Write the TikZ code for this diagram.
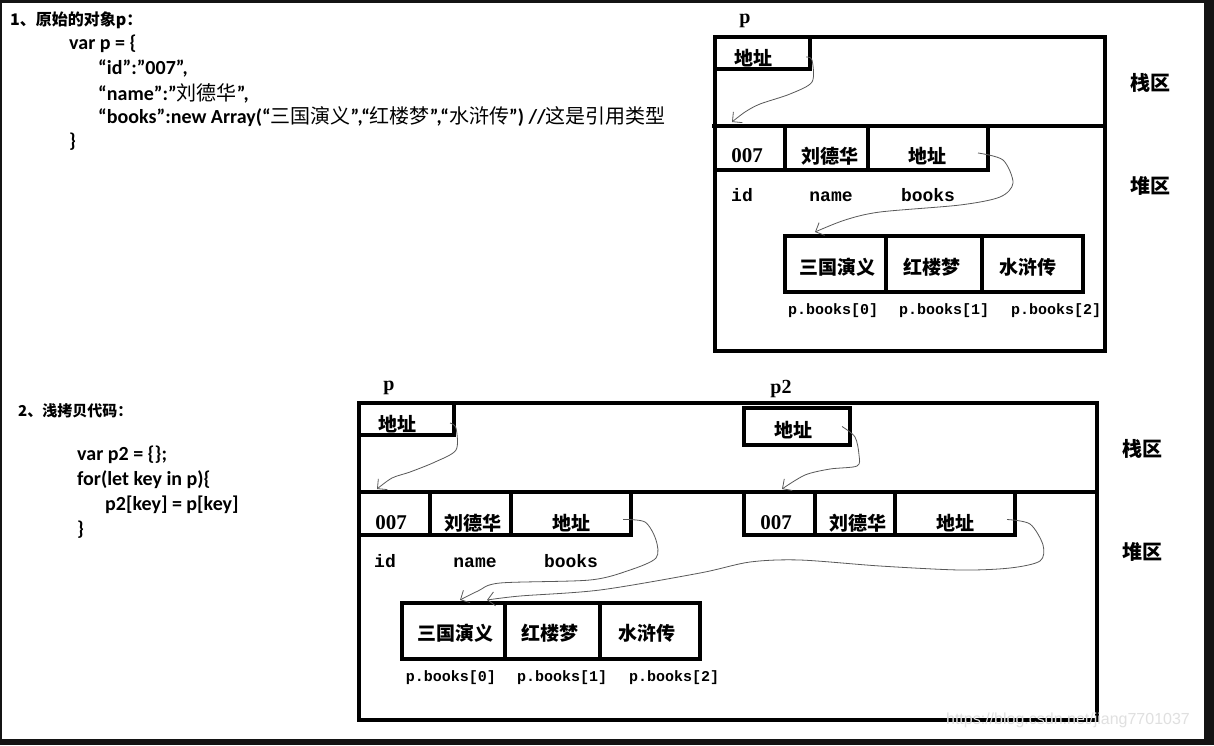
\documentclass[tikz,border=0pt]{standalone}
\usepackage{fontspec}
\setmainfont{Liberation Serif}
\newfontfamily\cjk{Noto Sans CJK SC}
\newfontfamily\codefont{Carlito}
\newfontfamily\monof{Liberation Mono}
\newfontfamily\wmfont{Liberation Sans}
\usetikzlibrary{arrows.meta,calc}
\newcommand\zh[1]{{\cjk\mdseries #1}}
\tikzset{
  box/.style={draw, line width=4.5pt, inner sep=0pt, outer sep=0pt},
  zhcell/.style={font=\cjk\bfseries\fontsize{19}{22}\selectfont, inner sep=0pt},
  numcell/.style={font=\bfseries\fontsize{21}{24}\selectfont, inner sep=0pt},
  fieldlbl/.style={font=\monof\bfseries\fontsize{18}{20}\selectfont, inner sep=0pt, anchor=base},
  idxlbl/.style={font=\monof\bfseries\fontsize{15}{18}\selectfont, inner sep=0pt},
  varlbl/.style={font=\bfseries\fontsize{20}{22}\selectfont, inner sep=0pt},
  zone/.style={font=\cjk\bfseries\fontsize{20}{22}\selectfont, inner sep=0pt},
  codeline/.style={font=\codefont\bfseries\fontsize{20}{24}\selectfont, anchor=west, inner sep=0pt},
  heading/.style={font=\cjk\bfseries\fontsize{16}{20}\selectfont, anchor=west, inner sep=0pt},
  conn/.style={draw=black!65, line width=0.8pt, -{Straight Barb[length=7pt,width=14pt,line width=0.8pt]}},
}
\begin{document}
\begin{tikzpicture}[x=1pt,y=-1pt]
\useasboundingbox (0,0) rectangle (1214,745);
\fill[black!92] (0,0) rectangle (1214,745);
\fill[white] (2,3) rectangle (1204,739);

% ---------- section 1 text ----------
\node[heading] (h1) at (10,20) {1、原始的对象p：};
\node[codeline] (l1) at (69,44) {var p = \{};
\node[codeline] (l2) at (98,68) {“id”:”007”,};
\node[codeline] (l3) at (98,93) {“name”:”\zh{刘德华}”,};
\node[codeline] (l4) at (98,117) {“books”:new Array(“\zh{三国演义}”,“\zh{红楼梦}”,“\zh{水浒传}”) //\zh{这是引用类型}};
\node[codeline] (l5) at (69,142) {\}};

% ---------- section 1 diagram ----------
\node[box, minimum width=390, minimum height=314] (mem1) at (910,194) {};
\draw[line width=4.5pt] (712,126) -- (mem1.east |- 0,126);
\node[varlbl] (p1) at (745,21) {p};
\node[zone] (stack1) at (1150,83) {栈区};
\node[zone] (heap1) at (1150,186) {堆区};

\node[box, minimum width=95, minimum height=32] (saddr1) at (762.5,53) {};
\node[zhcell] (saddr1t) at (753,58) {地址};

\node[box, minimum width=70, minimum height=44] (h1id) at (750,148) {};
\node[box, minimum width=83, minimum height=44] (h1name) at (826.5,148) {};
\node[box, minimum width=120, minimum height=44] (h1books) at (928,148) {};
\node[numcell] (h1idt) at (747,156) {007};
\node[zhcell] (h1namet) at (830,156) {刘德华};
\node[zhcell] (h1bookst) at (927,156) {地址};
\node[fieldlbl] (f1a) at (742,201) {id};
\node[fieldlbl] (f1b) at (831,201) {name};
\node[fieldlbl] (f1c) at (928,201) {books};

\node[box, minimum width=101, minimum height=56] (a1c0) at (835.5,264) {};
\node[box, minimum width=96, minimum height=56] (a1c1) at (934,264) {};
\node[box, minimum width=101, minimum height=56] (a1c2) at (1032.5,264) {};
\node[zhcell] (a1t0) at (837,267) {三国演义};
\node[zhcell] (a1t1) at (932,267) {红楼梦};
\node[zhcell] (a1t2) at (1028,267) {水浒传};
\node[idxlbl] (i1a) at (833,311) {p.books[0]};
\node[idxlbl] (i1b) at (944,311) {p.books[1]};
\node[idxlbl] (i1c) at (1056,311) {p.books[2]};

\draw[conn] plot[smooth, tension=0.5] coordinates {($(saddr1.east)+(-4,4)$) (812,60) (812,82) (790,94) (760,104) (745,112) ($(h1id.north west)+(17,-4)$)};
\draw[conn] plot[smooth, tension=0.5] coordinates {($(h1books.east)+(-10,5)$) (1003,160) (1013,183) (1000,197) (960,205) (880,212) (845,220) ($(a1c0.north west)+(30,-4)$)};

% ---------- section 2 text ----------
\node[heading, font=\cjk\bfseries\fontsize{15}{18}\selectfont] (h2) at (18,411) {2、浅拷贝代码：};
\node[codeline] (m1) at (77,455) {var p2 = \{\};};
\node[codeline] (m2) at (77,480) {for(let key in p)\{};
\node[codeline] (m3) at (105,505) {p2[key] = p[key]};
\node[codeline] (m4) at (77,530) {\}};

% ---------- section 2 diagram ----------
\node[box, minimum width=738, minimum height=317] (mem2) at (728,561.5) {};
\draw[line width=4.5pt] (357,492) -- (mem2.east |- 0,492);
\node[varlbl] (p2a) at (389,388) {p};
\node[varlbl] (p2b) at (781,389) {p2};
\node[zone] (stack2) at (1142,449) {栈区};
\node[zone] (heap2) at (1142,552) {堆区};

\node[box, minimum width=95, minimum height=32] (ps) at (406.5,419) {};
\node[zhcell] (pst) at (397,424) {地址};
\node[box, minimum width=106, minimum height=37] (p2s) at (797,426.5) {};
\node[zhcell] (p2st) at (793,430) {地址};

\node[box, minimum width=71, minimum height=43] (pid) at (394.5,513.5) {};
\node[box, minimum width=81, minimum height=43] (pname) at (470.5,513.5) {};
\node[box, minimum width=120, minimum height=43] (pbooks) at (571,513.5) {};
\node[numcell] (pidt) at (391,523) {007};
\node[zhcell] (pnamet) at (473,523) {刘德华};
\node[zhcell] (pbookst) at (571,523) {地址};
\node[fieldlbl] (f2a) at (385,567) {id};
\node[fieldlbl] (f2b) at (475,567) {name};
\node[fieldlbl] (f2c) at (571,567) {books};

\node[box, minimum width=71, minimum height=43] (qid) at (779.5,513.5) {};
\node[box, minimum width=80, minimum height=43] (qname) at (855,513.5) {};
\node[box, minimum width=120, minimum height=43] (qbooks) at (955,513.5) {};
\node[numcell] (qidt) at (776,523) {007};
\node[zhcell] (qnamet) at (858,523) {刘德华};
\node[zhcell] (qbookst) at (955,523) {地址};

\node[box, minimum width=103, minimum height=56] (a2c0) at (453.5,631) {};
\node[box, minimum width=95, minimum height=56] (a2c1) at (552.5,631) {};
\node[box, minimum width=100, minimum height=56] (a2c2) at (650,631) {};
\node[zhcell] (a2t0) at (455,633) {三国演义};
\node[zhcell] (a2t1) at (550,633) {红楼梦};
\node[zhcell] (a2t2) at (647,633) {水浒传};
\node[idxlbl] (i2a) at (451,678) {p.books[0]};
\node[idxlbl] (i2b) at (562,678) {p.books[1]};
\node[idxlbl] (i2c) at (674,678) {p.books[2]};

\draw[conn] plot[smooth, tension=0.5] coordinates {($(ps.east)+(-4,4)$) (456,428) (456,450) (435,462) (410,472) (392,478) ($(pid.north west)+(18,-3)$)};
\draw[conn] plot[smooth, tension=0.5] coordinates {($(p2s.east)+(-8,0)$) (855,437) (859,455) (857,466) (830,469) (805,475) ($(qid.north west)+(38,-3)$)};
\draw[conn] plot[smooth, tension=0.5] coordinates {($(pbooks.east)+(-8,6)$) (645,522) (656,540) (656,558) (630,570) (590,580) (500,583) (478,591) ($(a2c0.north west)+(58,-3)$)};
\draw[conn] plot[smooth, tension=0.5] coordinates {($(qbooks.east)+(-8,6)$) (1030,524) (1043,545) (1040,561) (1010,568) (960,570) (880,566) (800,560) (750,562) (700,573) (600,590) (520,596) ($(a2c0.north west)+(85,-3)$)};

% watermark
\node[font=\wmfont\fontsize{16}{18}\selectfont, text=black!12, inner sep=0pt] (wm) at (1068,720) {https://blog.csdn.net/jiang7701037};
\end{tikzpicture}
\end{document}
